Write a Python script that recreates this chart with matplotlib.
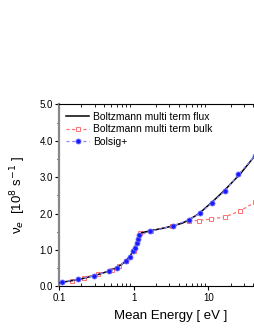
import matplotlib
matplotlib.use("Agg")
import matplotlib.pyplot as plt
from matplotlib.ticker import (LogLocator, MultipleLocator, FixedLocator,
                               FuncFormatter, NullFormatter)

plt.rcParams["font.family"] = ["Liberation Sans", "DejaVu Sans"]

# Boltzmann multi term flux (solid black line)
flux_x = [0.1, 0.15, 0.21, 0.3, 0.45, 0.6, 0.75, 0.87, 0.97, 1.05, 1.12, 1.18,
          1.3, 1.7, 2.5, 3.3, 4.5, 5.5, 7.5, 11, 16.5, 27, 45]
flux_y = [0.10, 0.16, 0.22, 0.30, 0.41, 0.52, 0.66, 0.80, 0.95, 1.10, 1.28, 1.42,
          1.48, 1.53, 1.60, 1.66, 1.74, 1.83, 2.00, 2.30, 2.64, 3.10, 3.66]

# Boltzmann multi term bulk (red dashed, open squares)
bulk_x = [0.148, 0.213, 0.328, 0.52, 0.64, 0.8, 1.0, 1.21, 1.7, 3.3, 5.5, 7.4,
          10.9, 16.6, 26.5, 42]
bulk_y = [0.16, 0.24, 0.335, 0.45, 0.56, 0.70, 0.98, 1.46, 1.53, 1.66, 1.80, 1.81,
          1.85, 1.91, 2.07, 2.31]

# Bolsig+ (blue dashed, filled circles)
bolsig_x = [0.109, 0.181, 0.296, 0.469, 0.607, 0.78, 0.89, 0.98, 1.03, 1.10, 1.14,
            1.18, 1.65, 3.34, 5.46, 7.8, 11.2, 16.9, 25.4, 42.3]
bolsig_y = [0.115, 0.198, 0.297, 0.417, 0.516, 0.70, 0.82, 0.96, 1.05, 1.19, 1.30,
            1.40, 1.51, 1.66, 1.83, 2.01, 2.30, 2.63, 3.08, 3.59]

x_ticks = [0.1, 1, 10]

fig = plt.figure(figsize=(2.55, 3.3), dpi=100)
# axes run past the right border, as in the cropped original
ax = fig.add_axes([0.2314, 0.132, 0.878, 0.5515])

ax.plot(flux_x, flux_y, color="black", lw=1.1, zorder=4,
        label="Boltzmann multi term flux")
ax.plot(bulk_x, bulk_y, color="#ff7070", lw=0.9, ls=(0, (2.5, 2)), marker="s",
        ms=3.2, mfc="white", mec="#ff7070", mew=0.7, zorder=3,
        label="Boltzmann multi term bulk")
ax.plot(bolsig_x, bolsig_y, color="#8a8aff", lw=0.9, ls=(0, (2.5, 2)), marker="o",
        ms=3.6, mfc="#1a1aff", mec="#6a6aff", mew=0.6, zorder=5,
        label="Bolsig+")

ax.set_xscale("log")
ax.set_xlim(0.1, 100)
ax.set_ylim(0, 5.0)

ax.xaxis.set_major_locator(FixedLocator(x_ticks))
ax.xaxis.set_major_formatter(FuncFormatter(lambda v, p: f"{v:g}"))
ax.xaxis.set_minor_locator(LogLocator(base=10, subs=range(2, 10)))
ax.xaxis.set_minor_formatter(NullFormatter())
ax.yaxis.set_major_locator(MultipleLocator(1.0))
ax.yaxis.set_minor_locator(MultipleLocator(0.5))
ax.yaxis.set_major_formatter(FuncFormatter(lambda v, p: f"{v:.1f}"))

ax.tick_params(axis="both", which="major", direction="out", length=3, width=0.8,
               labelsize=7, pad=1.5)
ax.tick_params(axis="x", which="minor", direction="in", length=2, width=0.6,
               top=True)
ax.tick_params(axis="y", which="minor", direction="out", length=1.5, width=0.8)

ax.spines["left"].set_color("#888888")
ax.spines["left"].set_linewidth(1.6)
ax.spines["bottom"].set_linewidth(0.8)
ax.spines["top"].set_linewidth(0.8)

ax.set_xlabel("Mean Energy [ eV ]", fontsize=9.5, labelpad=5)
ax.set_ylabel("ν$_e$  [10$^8$ s$^{-1}$ ]", fontsize=9.5, labelpad=8)

ax.legend(loc="upper left", frameon=False, fontsize=7.5, handlelength=2.2,
          handletextpad=0.4, labelspacing=0.25, borderaxespad=0.3,
          bbox_to_anchor=(0.0, 1.0))

fig.savefig("out.png", dpi=100)
